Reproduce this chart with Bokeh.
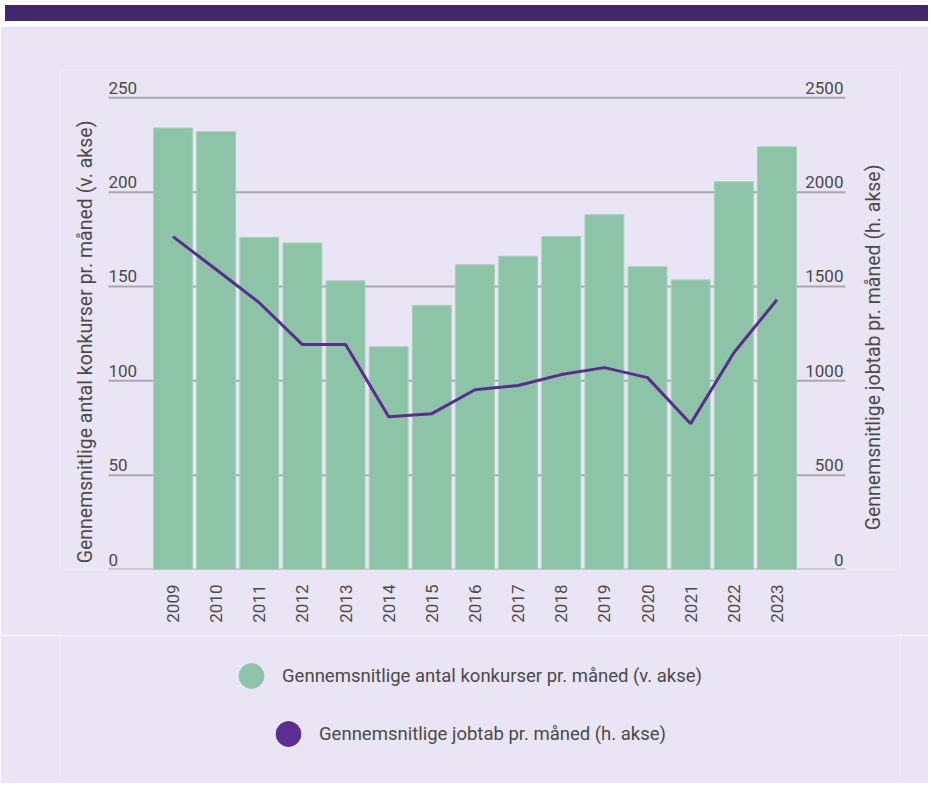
import math
from bokeh.plotting import figure
from bokeh.models import (Range1d, FixedTicker, ColumnDataSource, Legend, LegendItem, Div)
from bokeh.layouts import column
from bokeh.core.properties import value
from bokeh.embed import file_html
from bokeh.resources import INLINE

years = ["2009", "2010", "2011", "2012", "2013", "2014", "2015", "2016", "2017", "2018",
         "2019", "2020", "2021", "2022", "2023"]
konkurser = [234, 232, 176, 173, 153, 118, 140, 161.5, 166, 176.5, 188, 160.5, 153.5, 205.5, 224]
jobtab = [1764, 1590, 1414, 1192, 1192, 810, 826, 953, 975, 1033, 1070, 1017, 773, 1149, 1430]
left_ticks = [0, 50, 100, 150, 200, 250]
right_ticks = [0, 500, 1000, 1500, 2000, 2500]
label_bars = "Gennemsnitlige antal konkurser pr. måned (v. akse)"
label_line = "Gennemsnitlige jobtab pr. måned (h. akse)"

BG = "#E9E5F4"
GREEN = "#8DC4A8"
PURPLE = "#5B2C8F"
TXT = "#4A4A4A"
FONT = "Roboto"

idx = list(range(len(years)))
src = ColumnDataSource(data=dict(x=idx, k=konkurser, j=jobtab))

# layout constants (in category-index units)
x_start, x_end = -2.608, 16.864        # frame edges
grid_l, grid_r = -1.495, 15.588        # extent of the value grid

p = figure(frame_width=840, frame_height=500, output_backend="svg", toolbar_location=None,
           x_range=Range1d(x_start, x_end), y_range=Range1d(0, 265),
           y_axis_location=None,
           background_fill_color=BG, border_fill_color=BG, outline_line_color=None,
           min_border_left=60, min_border_right=28, min_border_top=43, min_border_bottom=66)
p.extra_y_ranges = {"right": Range1d(0, 2650)}
p.xgrid.visible = False
p.ygrid.visible = False

# value grid
gsrc = ColumnDataSource(data=dict(x0=[grid_l] * len(left_ticks), x1=[grid_r] * len(left_ticks), y=left_ticks))
p.segment(x0="x0", y0="y", x1="x1", y1="y", source=gsrc, line_color="#A9A7AE", line_width=2, level="underlay")

bars = p.vbar(x="x", top="k", width=0.9, source=src, fill_color=GREEN, line_color="#A3D0B8", line_width=1)
line = p.line(x="x", y="j", source=src, y_range_name="right", line_color=PURPLE, line_width=3)

# bottom axis
xa = p.xaxis[0]
xa.ticker = FixedTicker(ticks=idx)
xa.major_label_overrides = {i: y for i, y in zip(idx, years)}
xa.major_label_orientation = math.pi / 2
xa.axis_line_color = None
xa.major_tick_line_color = None
xa.minor_tick_line_color = None
xa.major_label_standoff = 9
xa.major_label_text_font = FONT
xa.major_label_text_font_size = "17px"
xa.major_label_text_color = TXT

# y tick labels above gridlines
lsrc = ColumnDataSource(data=dict(x=[grid_l] * len(left_ticks), y=left_ticks, t=[str(v) for v in left_ticks]))
p.text(x="x", y="y", text="t", source=lsrc, text_align="left", text_baseline="bottom",
       y_offset=-4, text_font=value(FONT), text_font_size="17px", text_color=TXT)
rsrc = ColumnDataSource(data=dict(x=[grid_r] * len(right_ticks), y=right_ticks, t=[str(v) for v in right_ticks]))
p.text(x="x", y="y", text="t", source=rsrc, y_range_name="right", text_align="right", text_baseline="bottom",
       x_offset=-2, y_offset=-4, text_font=value(FONT), text_font_size="17px", text_color=TXT)

# axis titles (reading bottom to top on both sides)
tsrc = ColumnDataSource(data=dict(x=[-2.028, 16.238], y=[120.6, 117.7], t=[label_bars, label_line]))
p.text(x="x", y="y", text="t", source=tsrc, angle=math.pi / 2, text_align="center", text_baseline="middle",
       text_font=value(FONT), text_font_size="19.5px", text_color=TXT)

# legend figure (frame aligned with main frame by the column layout)
lf = figure(width=928, height=148, output_backend="svg", toolbar_location=None,
            x_range=Range1d(0, 1), y_range=Range1d(0, 1),
            x_axis_location=None, y_axis_location=None,
            background_fill_color=BG, border_fill_color=BG, outline_line_color=None,
            min_border_left=0, min_border_right=0, min_border_top=0, min_border_bottom=0)
lf.xgrid.visible = False
lf.ygrid.visible = False
nan = float("nan")
d1 = ColumnDataSource(data=dict(x=[nan], y=[nan]))
d2 = ColumnDataSource(data=dict(x=[nan], y=[nan]))
m1 = lf.scatter(x="x", y="y", source=d1, marker="circle", fill_color=GREEN, line_color=GREEN)
m2 = lf.scatter(x="x", y="y", source=d2, marker="circle", fill_color="#5E2D91", line_color="#5E2D91")

for item, r, loc in ((label_bars, m1, (160, 75)), (label_line, m2, (197, 17))):
    lg = Legend(items=[LegendItem(label=item, renderers=[r])], location=loc,
                glyph_width=62, glyph_height=65, label_standoff=0, padding=0, margin=0,
                background_fill_alpha=0, border_line_alpha=0,
                label_text_font=FONT, label_text_font_size="18.5px", label_text_color=TXT)
    lf.add_layout(lg, "center")

band = Div(text="", width=923, height=16, styles={"background-color": "#40276E"})
layout = column(band, p, lf, spacing=0)

open("out.html", "w").write(file_html(layout, INLINE))
